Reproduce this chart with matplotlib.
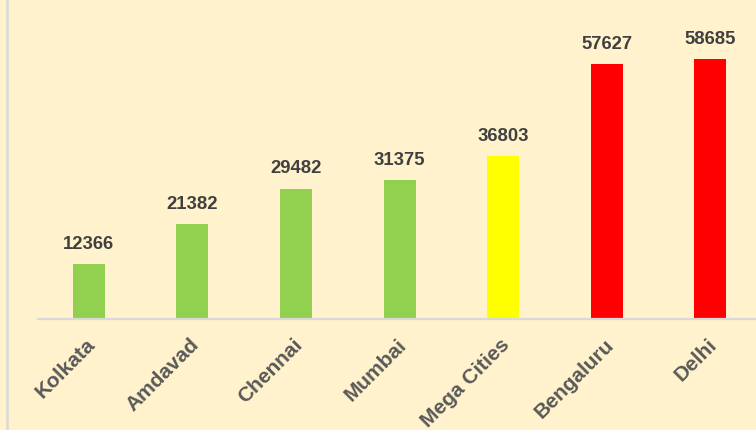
import matplotlib.pyplot as plt
from matplotlib.lines import Line2D
from matplotlib.transforms import ScaledTranslation

cities = ['Kolkata', 'Amdavad', 'Chennai', 'Mumbai', 'Mega Cities', 'Bengaluru', 'Delhi']
values = [12366, 21382, 29482, 31375, 36803, 57627, 58685]
colors = ['#92D050', '#92D050', '#92D050', '#92D050', '#FFFF00', '#FF0000', '#FF0000']

plt.rcParams['font.family'] = ['Liberation Sans', 'DejaVu Sans']

bg = '#FFF2CC'
fig = plt.figure(figsize=(7.56, 4.31), dpi=100, facecolor=bg)
W, H = 756, 431
# axes: left at x=38, right edge 756, baseline y=320, top y=10
ax = fig.add_axes([38 / W, (H - 320) / H, (756 - 38) / W, 310 / H])
ax.set_facecolor(bg)

x = list(range(len(cities)))
ax.bar(x, values, width=0.31, color=colors, zorder=2)

for xi, v in zip(x, values):
    ax.annotate(str(v), (xi, v), xytext=(0, 9), textcoords='offset points',
                ha='center', va='bottom', fontsize=13.3, fontweight='bold',
                color='#404040')

ax.set_xlim(-0.49, 6.44)
ax.set_ylim(0, 310 / 0.004425)
ax.set_yticks([])
ax.set_xticks(x)
ax.set_xticklabels(cities, rotation=45, ha='right', va='top',
                   rotation_mode='anchor', fontsize=15, fontweight='bold',
                   color='#595959')
ax.tick_params(axis='x', length=0, pad=11)
shift = ScaledTranslation(-3 / 100, 0, fig.dpi_scale_trans)
for lbl in ax.get_xticklabels():
    lbl.set_transform(lbl.get_transform() + shift)

for s in ['top', 'right', 'left']:
    ax.spines[s].set_visible(False)
ax.spines['bottom'].set_color('#D9D9D9')
ax.spines['bottom'].set_linewidth(1.6)

# chart area border on the left
fig.add_artist(Line2D([7 / W, 7 / W], [0, 1], color='#D9D9D9', linewidth=1.8,
                      transform=fig.transFigure))

fig.savefig('out.png', dpi=100, facecolor=bg)
